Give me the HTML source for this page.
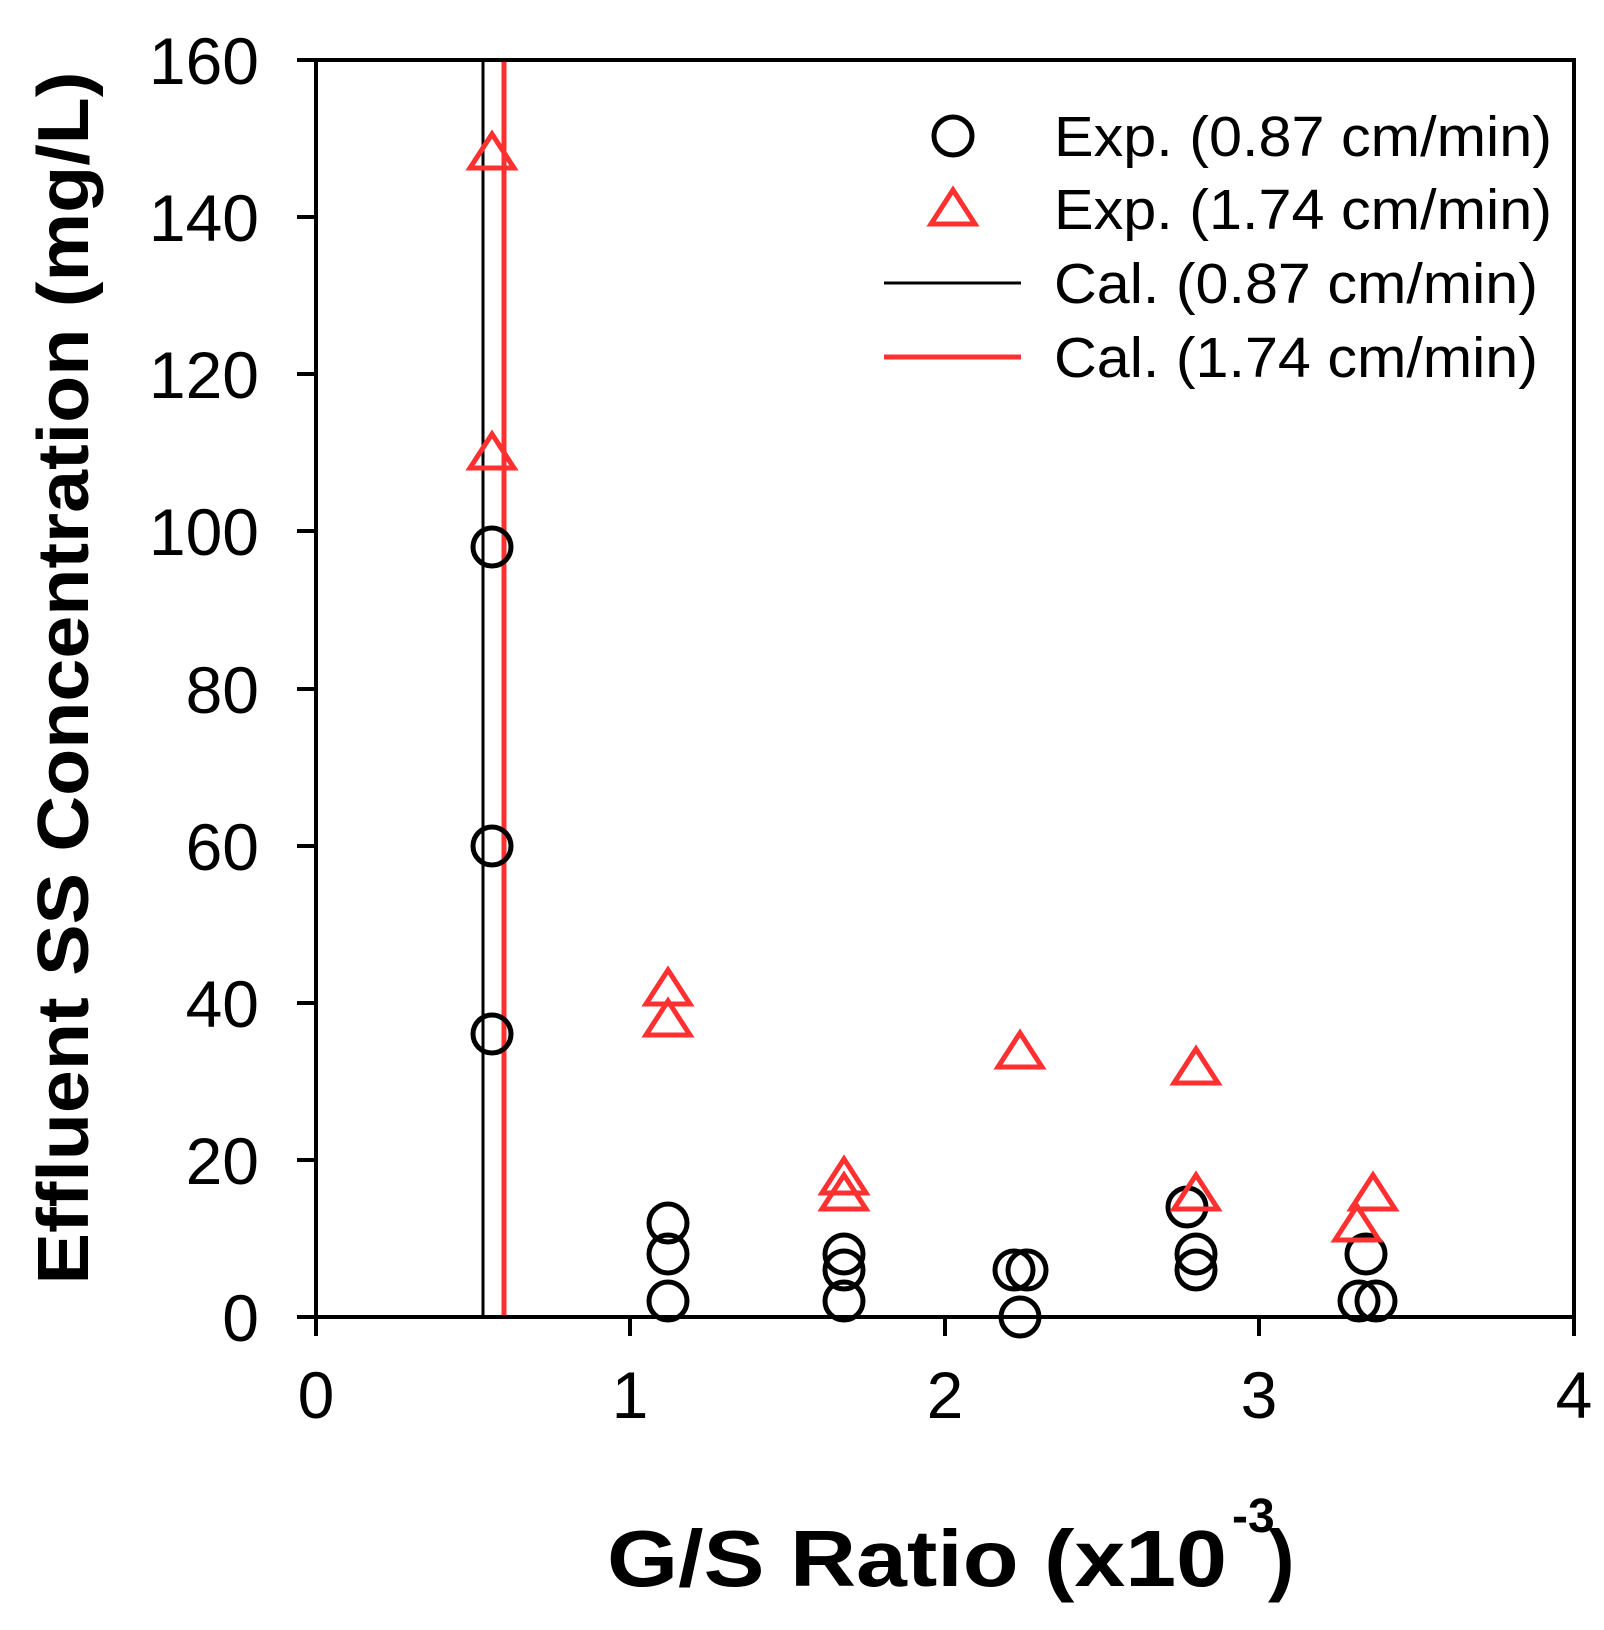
<!DOCTYPE html>
<html><head><meta charset="utf-8"><style>html,body{margin:0;padding:0;background:#fff}svg{display:block}</style></head>
<body>
<svg width="1604" height="1630" viewBox="0 0 1604 1630" xmlns="http://www.w3.org/2000/svg" font-family="Liberation Sans, Arial, sans-serif">
<rect width="1604" height="1630" fill="#fff"/>
<line x1="483" y1="60" x2="483" y2="1317" stroke="#000" stroke-width="3"/>
<line x1="504" y1="60" x2="504" y2="1317" stroke="#ff3030" stroke-width="5"/>
<rect x="316" y="60" width="1258" height="1257" fill="none" stroke="#000" stroke-width="4"/>
<g stroke="#000" stroke-width="4">
<line x1="297" y1="1317" x2="316" y2="1317"/>
<line x1="297" y1="1160" x2="316" y2="1160"/>
<line x1="297" y1="1003" x2="316" y2="1003"/>
<line x1="297" y1="846" x2="316" y2="846"/>
<line x1="297" y1="689" x2="316" y2="689"/>
<line x1="297" y1="531" x2="316" y2="531"/>
<line x1="297" y1="374" x2="316" y2="374"/>
<line x1="297" y1="217" x2="316" y2="217"/>
<line x1="297" y1="60" x2="316" y2="60"/>
<line x1="316" y1="1317" x2="316" y2="1336"/>
<line x1="630" y1="1317" x2="630" y2="1336"/>
<line x1="945" y1="1317" x2="945" y2="1336"/>
<line x1="1259" y1="1317" x2="1259" y2="1336"/>
<line x1="1574" y1="1317" x2="1574" y2="1336"/>
</g>
<g font-size="66" text-anchor="end" fill="#000">
<text x="259" y="1341">0</text>
<text x="259" y="1184">20</text>
<text x="259" y="1027">40</text>
<text x="259" y="870">60</text>
<text x="259" y="713">80</text>
<text x="259" y="555">100</text>
<text x="259" y="398">120</text>
<text x="259" y="241">140</text>
<text x="259" y="84">160</text>
</g>
<g font-size="66" text-anchor="middle" fill="#000">
<text x="316" y="1418">0</text>
<text x="630" y="1418">1</text>
<text x="945" y="1418">2</text>
<text x="1259" y="1418">3</text>
<text x="1574" y="1418">4</text>
</g>
<g fill="none" stroke="#000" stroke-width="5">
<circle cx="492" cy="547" r="19"/>
<circle cx="492" cy="846" r="19"/>
<circle cx="492" cy="1034" r="19"/>
<circle cx="668" cy="1223" r="19"/>
<circle cx="668" cy="1254" r="19"/>
<circle cx="668" cy="1301" r="19"/>
<circle cx="844" cy="1254" r="19"/>
<circle cx="844" cy="1270" r="19"/>
<circle cx="844" cy="1301" r="19"/>
<circle cx="1014" cy="1270" r="19"/>
<circle cx="1027" cy="1270" r="19"/>
<circle cx="1020" cy="1317" r="19"/>
<circle cx="1187" cy="1207" r="19"/>
<circle cx="1196" cy="1254" r="19"/>
<circle cx="1196" cy="1270" r="19"/>
<circle cx="1366" cy="1254" r="19"/>
<circle cx="1359" cy="1301" r="19"/>
<circle cx="1376" cy="1301" r="19"/>
</g>
<g fill="none" stroke="#ff3030" stroke-width="5">
<path d="M492,134 L514,168 L470,168 Z"/>
<path d="M492,434 L514,468 L470,468 Z"/>
<path d="M668,970 L690,1004 L646,1004 Z"/>
<path d="M668,1001 L690,1035 L646,1035 Z"/>
<path d="M844,1159 L866,1193 L822,1193 Z"/>
<path d="M844,1175 L866,1209 L822,1209 Z"/>
<path d="M1020,1033 L1042,1067 L998,1067 Z"/>
<path d="M1196,1049 L1218,1083 L1174,1083 Z"/>
<path d="M1196,1175 L1218,1209 L1174,1209 Z"/>
<path d="M1373,1175 L1395,1209 L1351,1209 Z"/>
<path d="M1357,1206 L1379,1240 L1335,1240 Z"/>
</g>
<circle cx="953" cy="136" r="19" fill="none" stroke="#000" stroke-width="5"/>
<path d="M953,190 L975,224 L931,224 Z" fill="none" stroke="#ff3030" stroke-width="5"/>
<line x1="884" y1="283" x2="1021" y2="283" stroke="#000" stroke-width="3"/>
<line x1="884" y1="357" x2="1021" y2="357" stroke="#ff3030" stroke-width="5"/>
<g font-size="57" fill="#000">
<text x="1054" y="156" textLength="498" lengthAdjust="spacingAndGlyphs">Exp. (0.87 cm/min)</text>
<text x="1054" y="229" textLength="498" lengthAdjust="spacingAndGlyphs">Exp. (1.74 cm/min)</text>
<text x="1054" y="303" textLength="484" lengthAdjust="spacingAndGlyphs">Cal. (0.87 cm/min)</text>
<text x="1054" y="377" textLength="484" lengthAdjust="spacingAndGlyphs">Cal. (1.74 cm/min)</text>
</g>
<text transform="translate(88,678) rotate(-90)" text-anchor="middle" font-size="72" font-weight="bold" textLength="1213" lengthAdjust="spacingAndGlyphs">Effluent SS Concentration (mg/L)</text>
<g font-weight="bold" fill="#000">
<text x="607" y="1586" font-size="80" textLength="620" lengthAdjust="spacingAndGlyphs">G/S Ratio (x10</text>
<text x="1232" y="1532" font-size="48">-3</text>
<text x="1268" y="1586" font-size="80">)</text>
</g>
</svg>
</body></html>
